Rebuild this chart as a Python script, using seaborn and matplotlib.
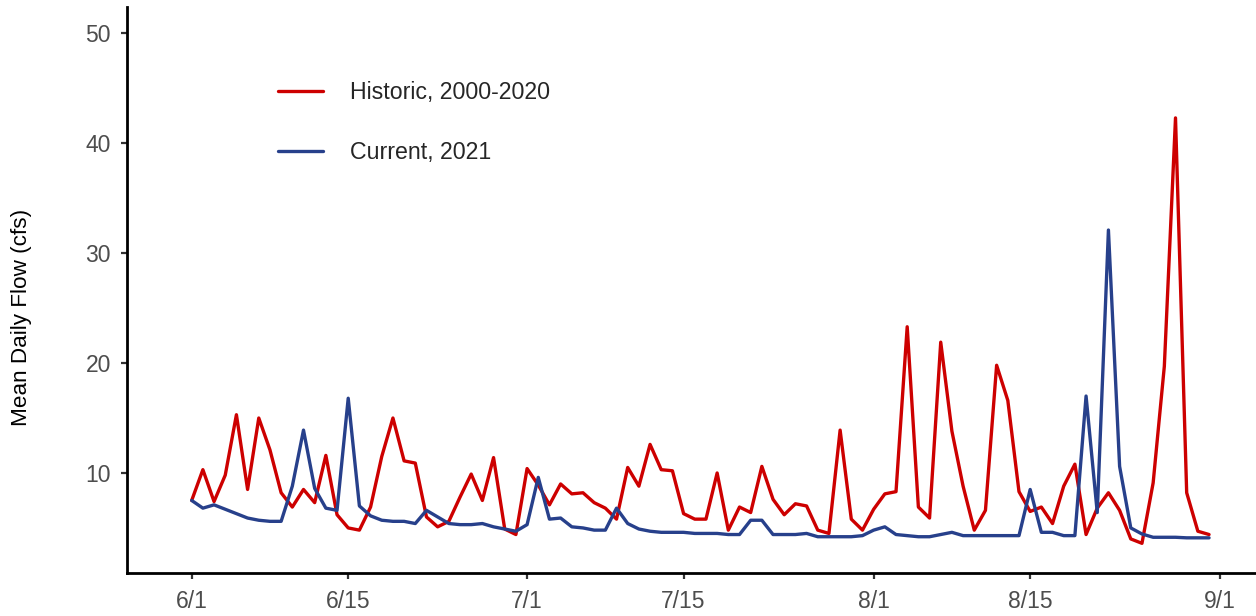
import pandas as pd
import matplotlib.pyplot as plt
import seaborn as sns

# Daily mean flow, 6/1 - 8/31
dates = pd.date_range('2021-06-01', periods=92, freq='D')

historic = [7.5, 10.3, 7.4, 9.8, 15.3, 8.5, 15.0, 12.1, 8.2, 6.9,
            8.5, 7.3, 11.6, 6.2, 5.0, 4.8, 6.9, 11.5, 15.0, 11.1,
            10.9, 6.0, 5.1, 5.6, 7.8, 9.9, 7.5, 11.4, 4.9, 4.4,
            10.4, 8.9, 7.1, 9.0, 8.1, 8.2, 7.3, 6.8, 5.8, 10.5,
            8.8, 12.6, 10.3, 10.2, 6.3, 5.8, 5.8, 10.0, 4.8, 6.9,
            6.4, 10.6, 7.6, 6.2, 7.2, 7.0, 4.8, 4.5, 13.9, 5.8,
            4.8, 6.7, 8.1, 8.3, 23.3, 6.9, 5.9, 21.9, 13.8, 8.8,
            4.8, 6.6, 19.8, 16.6, 8.3, 6.5, 6.9, 5.4, 8.8, 10.8,
            4.4, 6.8, 8.2, 6.6, 4.0, 3.6, 9.1, 19.7, 42.3, 8.2,
            4.7, 4.4]

current = [7.5, 6.8, 7.1, 6.7, 6.3, 5.9, 5.7, 5.6, 5.6, 8.8,
           13.9, 8.6, 6.8, 6.6, 16.8, 7.0, 6.1, 5.7, 5.6, 5.6,
           5.4, 6.6, 6.0, 5.4, 5.3, 5.3, 5.4, 5.1, 4.9, 4.7,
           5.3, 9.6, 5.8, 5.9, 5.1, 5.0, 4.8, 4.8, 6.8, 5.4,
           4.9, 4.7, 4.6, 4.6, 4.6, 4.5, 4.5, 4.5, 4.4, 4.4,
           5.7, 5.7, 4.4, 4.4, 4.4, 4.5, 4.2, 4.2, 4.2, 4.2,
           4.3, 4.8, 5.1, 4.4, 4.3, 4.2, 4.2, 4.4, 4.6, 4.3,
           4.3, 4.3, 4.3, 4.3, 4.3, 8.5, 4.6, 4.6, 4.3, 4.3,
           17.0, 6.4, 32.1, 10.6, 5.0, 4.45, 4.15, 4.15, 4.15, 4.1,
           4.1, 4.1]

series_names = ['Historic, 2000-2020', 'Current, 2021']
series_colors = ['#CD0000', '#27408B']

tick_dates = ['2021-06-01', '2021-06-15', '2021-07-01', '2021-07-15',
              '2021-08-01', '2021-08-15', '2021-09-01']
tick_labels = ['6/1', '6/15', '7/1', '7/15', '8/1', '8/15', '9/1']
y_ticks = [10, 20, 30, 40, 50]

df = pd.concat([
    pd.DataFrame({'date': dates, 'flow': historic, 'series': series_names[0]}),
    pd.DataFrame({'date': dates, 'flow': current, 'series': series_names[1]}),
])

sns.set_style('white')
plt.rcParams['font.family'] = ['Liberation Sans', 'DejaVu Sans']

fig = plt.figure(figsize=(12.56, 6.16), dpi=100)
ax = fig.add_axes([0.101, 0.0698, 0.899, 0.919])

sns.lineplot(data=df, x='date', y='flow', hue='series', hue_order=series_names,
             palette=series_colors, linewidth=2.4, ax=ax)

# axis limits
x0 = pd.Timestamp('2021-06-01')
ax.set_xlim(x0 - pd.Timedelta(days=5.8), x0 + pd.Timedelta(days=95.2))
ax.set_ylim(0.9, 52.4)

ax.set_xticks(pd.to_datetime(tick_dates))
ax.set_xticklabels(tick_labels)
ax.set_yticks(y_ticks)

ax.set_xlabel('')
ax.set_ylabel('Mean Daily Flow (cfs)', fontsize=16.2, color='black')
ax.yaxis.set_label_coords(-0.084, 0.452)

for s in ['top', 'right']:
    ax.spines[s].set_visible(False)
for s in ['left', 'bottom']:
    ax.spines[s].set_color('black')
    ax.spines[s].set_linewidth(2.0)

ax.tick_params(axis='both', length=4.5, width=1.6, color='#333333',
               labelsize=16.5, labelcolor='#4D4D4D', pad=7, bottom=True, left=True)
ax.tick_params(axis='x', pad=8)

ax.legend(loc='upper left', bbox_to_anchor=(0.2213, 0.868), bbox_transform=fig.transFigure,
          frameon=False, fontsize=16.7, handlelength=1.95, handletextpad=1.15,
          labelspacing=1.6, borderpad=0, borderaxespad=0, title=None)

plt.savefig('out.png', dpi=100)
plt.close()
